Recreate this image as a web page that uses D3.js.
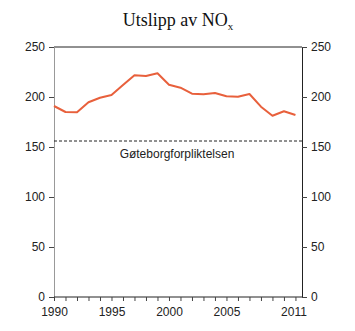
<!DOCTYPE html>
<html>
<head>
<meta charset="utf-8">
<script src="https://cdn.jsdelivr.net/npm/d3@7/dist/d3.min.js"></script>
<style>
  html, body { margin: 0; padding: 0; background: #fff; }
  svg { display: block; }
</style>
</head>
<body>
<svg id="chart" width="355" height="331"></svg>
<script>
// NOx emissions (1000 tonnes), 1990–2011
const years = [1990, 1991, 1992, 1993, 1994, 1995, 1996, 1997, 1998, 1999, 2000,
               2001, 2002, 2003, 2004, 2005, 2006, 2007, 2008, 2009, 2010, 2011];
const emissions = [191, 185, 184.7, 194.7, 199.3, 202, 212, 221.7, 221, 223.7, 212.3,
                   209.3, 203.3, 202.7, 204, 200.7, 200.3, 203, 190.3, 181.3, 185.7, 182];
const targetValue = 156;
const targetLabel = "Gøteborgforpliktelsen";
const yTicks = [0, 50, 100, 150, 200, 250];
const xTickLabels = [1990, 1995, 2000, 2005, 2011];

const svg = d3.select("#chart");
const plotLeft = 54, plotRight = 302, plotTop = 47, plotBottom = 297;

const x = d3.scaleLinear().domain([1990, 2011.57]).range([plotLeft, plotRight]);
const y = d3.scaleLinear().domain([0, 250]).range([plotBottom, plotTop]);

const font = "'Liberation Sans', Arial, sans-serif";

// frame: top border
svg.append("line").attr("x1", plotLeft).attr("x2", plotRight).attr("y1", plotTop).attr("y2", plotTop)
  .attr("stroke", "#222").attr("stroke-width", 1);

// left axis
const yLeft = d3.axisLeft(y).tickValues(yTicks).tickSize(5).tickPadding(4);
const gl = svg.append("g").attr("transform", `translate(${plotLeft},0)`).call(yLeft);
gl.select(".domain").attr("stroke", "#999");
gl.selectAll(".tick line").attr("stroke", "#444");

// right axis
const yRight = d3.axisRight(y).tickValues(yTicks).tickSize(5).tickPadding(4);
const gr = svg.append("g").attr("transform", `translate(${plotRight},0)`).call(yRight);
gr.select(".domain").attr("stroke", "#222");
gr.selectAll(".tick line").attr("stroke", "#444");

// bottom axis: a tick each year, labels on selected years
const xAxis = d3.axisBottom(x).tickValues(years).tickSize(4).tickPadding(6)
  .tickFormat(d => xTickLabels.includes(d) ? String(d) : "");
const gx = svg.append("g").attr("transform", `translate(0,${plotBottom})`).call(xAxis);
gx.select(".domain").attr("d", `M${plotLeft},0H${plotRight}`).attr("stroke", "#222");
gx.selectAll(".tick line").attr("stroke", "#444");

[gl, gr, gx].forEach(g => {
  g.selectAll("text").attr("font-family", font).attr("font-size", 12).attr("fill", "#222");
});
gx.selectAll(".tick text").filter(d => d === 2011).attr("dx", -2);

// target line
svg.append("line")
  .attr("x1", plotLeft).attr("x2", plotRight)
  .attr("y1", y(targetValue)).attr("y2", y(targetValue))
  .attr("stroke", "#222").attr("stroke-width", 1).attr("stroke-dasharray", "3,2");
svg.append("text")
  .attr("x", 177).attr("y", y(targetValue) + 17)
  .attr("text-anchor", "middle")
  .attr("font-family", font).attr("font-size", 12).attr("fill", "#222")
  .text(targetLabel);

// emissions line
const line = d3.line().x((d, i) => x(years[i])).y(d => y(d));
svg.append("path")
  .datum(emissions)
  .attr("d", line)
  .attr("fill", "none")
  .attr("stroke", "#e8603c")
  .attr("stroke-width", 2)
  .attr("stroke-linejoin", "round");

// title
const title = svg.append("text")
  .attr("x", 178).attr("y", 26)
  .attr("text-anchor", "middle")
  .attr("font-family", "'Liberation Serif', 'Times New Roman', serif")
  .attr("font-size", 18).attr("fill", "#111");
title.append("tspan").text("Utslipp av NO");
title.append("tspan").attr("font-size", 11).attr("dy", 4).text("x");
</script>
</body>
</html>
